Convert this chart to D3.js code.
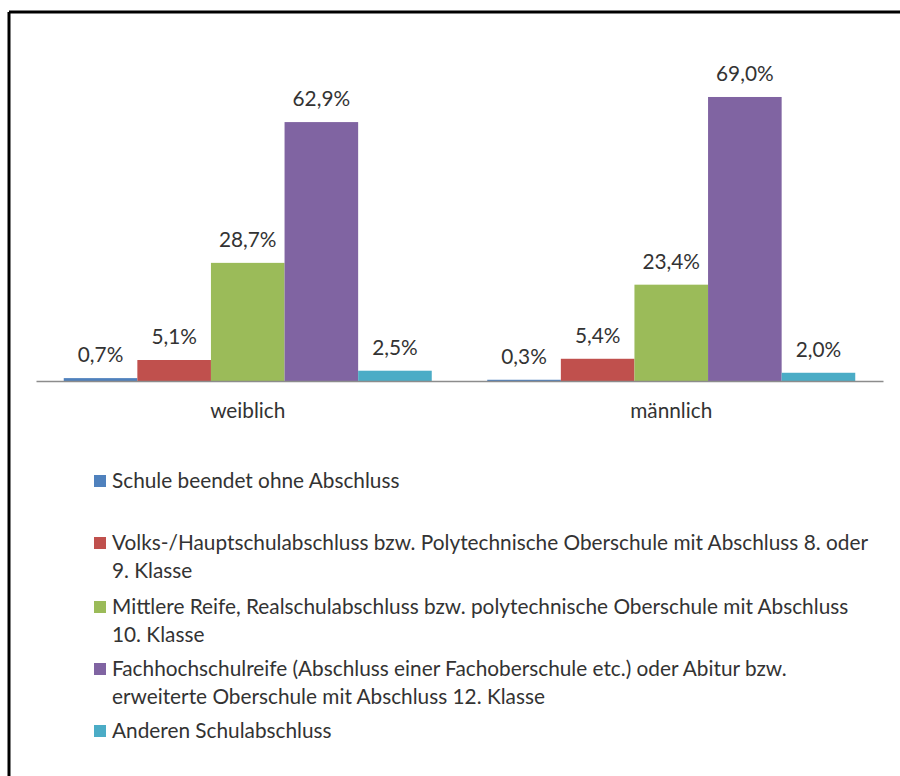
<!DOCTYPE html>
<html><head><meta charset="utf-8">
<script src="https://cdn.jsdelivr.net/npm/d3@7"></script>
<style>
html,body{margin:0;padding:0;background:#fff;}
svg{display:block;font-family:Lato, "Open Sans", sans-serif;}
</style></head>
<body>
<svg id="chart" width="900" height="776"></svg>
<script>
const categories = ["weiblich", "männlich"];
const seriesNames = [
  "Schule beendet ohne Abschluss",
  "Volks-/Hauptschulabschluss bzw. Polytechnische Oberschule mit Abschluss 8. oder\n9. Klasse",
  "Mittlere Reife, Realschulabschluss bzw. polytechnische Oberschule mit Abschluss\n10. Klasse",
  "Fachhochschulreife (Abschluss einer Fachoberschule etc.) oder Abitur bzw.\nerweiterte Oberschule mit Abschluss 12. Klasse",
  "Anderen Schulabschluss"
];
const seriesColors = ["#4F81BD", "#C0504D", "#9BBB59", "#8064A2", "#4BACC6"];
const valuesWeiblich = [0.7, 5.1, 28.7, 62.9, 2.5];
const valuesMaennlich = [0.3, 5.4, 23.4, 69.0, 2.0];
const yDomain = [0, 80];

const svg = d3.select("#chart");
const textColor = "#333333";
const fs = 20.8;

// frame
svg.append("line").attr("x1", 9).attr("x2", 900).attr("y1", 12).attr("y2", 12)
  .attr("stroke", "#000").attr("stroke-width", 3);
svg.append("line").attr("x1", 9).attr("x2", 9).attr("y1", 12).attr("y2", 776)
  .attr("stroke", "#000").attr("stroke-width", 3);

const plotLeft = 36, plotRight = 883, baseY = 381;
const x0 = d3.scaleBand().domain(categories).range([plotLeft, plotRight]).paddingInner(0).paddingOuter(0);
const innerPad = 55.5 / 423.5;
const x1 = d3.scaleBand().domain(d3.range(seriesNames.length))
  .range([x0.bandwidth() * innerPad / 2, x0.bandwidth() * (1 - innerPad / 2)]).padding(0);
const y = d3.scaleLinear().domain(yDomain).range([baseY, baseY - 329.3]);

const data = [
  {cat: categories[0], vals: valuesWeiblich},
  {cat: categories[1], vals: valuesMaennlich}
];

const fmt = v => d3.format(".1f")(v).replace(".", ",") + "%";

const groups = svg.selectAll("g.grp").data(data).join("g")
  .attr("class", "grp")
  .attr("transform", d => `translate(${x0(d.cat)},0)`);

groups.selectAll("rect").data(d => d.vals.map((v, i) => ({v, i}))).join("rect")
  .attr("x", d => x1(d.i))
  .attr("width", x1.bandwidth())
  .attr("y", d => y(d.v))
  .attr("height", d => y(0) - y(d.v))
  .attr("fill", d => seriesColors[d.i]);

groups.selectAll("text.lbl").data(d => d.vals.map((v, i) => ({v, i}))).join("text")
  .attr("class", "lbl")
  .attr("x", d => x1(d.i) + x1.bandwidth() / 2)
  .attr("y", d => y(d.v) - 16)
  .attr("text-anchor", "middle")
  .attr("font-size", fs)
  .attr("fill", textColor)
  .text(d => fmt(d.v));

// axis
const xAxis = d3.axisBottom(x0).tickSize(0).tickPadding(22);
const ax = svg.append("g").attr("transform", `translate(0,${baseY})`).call(xAxis);
ax.select(".domain").attr("stroke", "#8c8c8c").attr("stroke-width", 1.3);
ax.selectAll(".tick text").attr("font-size", fs).attr("fill", textColor)
  .attr("font-family", "Lato, 'Open Sans', sans-serif");

// legend
const legendTops = [481, 543, 607, 669, 731];
const lineH = 27.5;
const leg = svg.append("g");
seriesNames.forEach((name, i) => {
  const g = leg.append("g").attr("transform", `translate(0,${legendTops[i]})`);
  g.append("rect").attr("x", 94).attr("y", -6).attr("width", 12).attr("height", 12)
    .attr("fill", seriesColors[i]);
  const t = g.append("text").attr("x", 112).attr("y", 0)
    .attr("font-size", fs).attr("fill", textColor);
  name.split("\n").forEach((ln, j) => {
    t.append("tspan").attr("x", 112).attr("dy", j === 0 ? "0.35em" : lineH).text(ln);
  });
});
</script>
</body></html>
